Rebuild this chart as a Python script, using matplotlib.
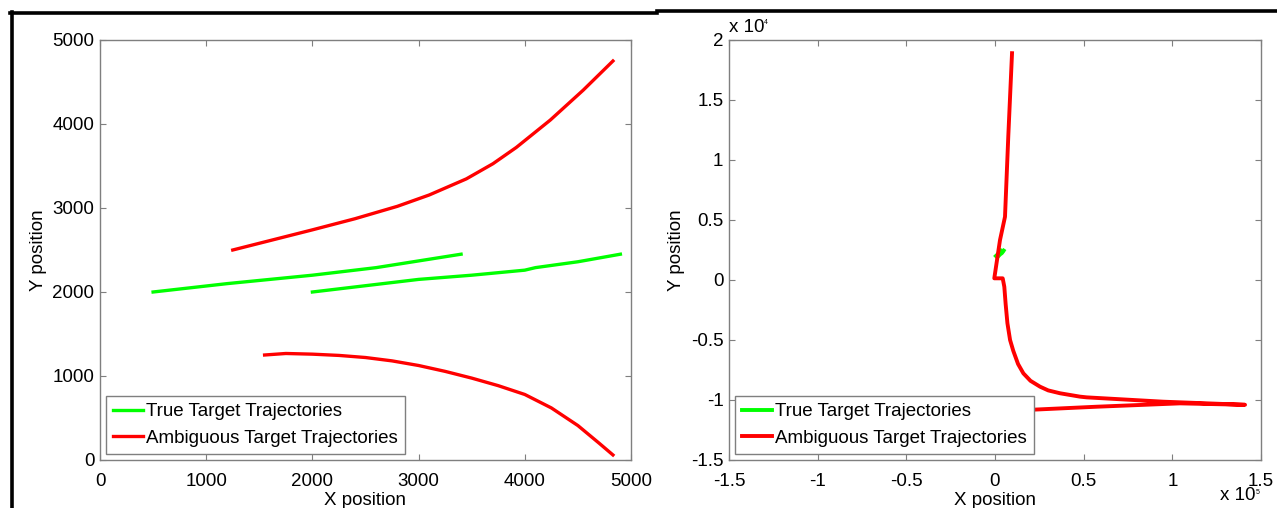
import numpy as np
import matplotlib.pyplot as plt
from matplotlib.lines import Line2D

plt.rcParams['font.family'] = ['Liberation Sans', 'DejaVu Sans']

# ---- left panel data ----
true1_x = [500, 1200, 2000, 2600, 2800, 3400]
true1_y = [2000, 2100, 2200, 2290, 2330, 2450]
true2_x = [2000, 3000, 3500, 4000, 4100, 4500, 4900]
true2_y = [2000, 2150, 2200, 2260, 2290, 2360, 2450]

amb1_x = [1250, 1600, 2000, 2400, 2800, 3100, 3450, 3700, 3920,
          4240, 4550, 4830]
amb1_y = [2500, 2612, 2740, 2872, 3020, 3155, 3347, 3527, 3721,
          4047, 4403, 4750]
amb2_x = [1550, 1750, 2000, 2250, 2500, 2750, 3000, 3250, 3500, 3750,
          4000, 4250, 4500, 4700, 4830]
amb2_y = [1250, 1268, 1260, 1245, 1220, 1180, 1125, 1055, 975, 885,
          780, 620, 410, 200, 60]

# ---- right panel data ----
amb3_x = [9600, 7500, 5640, 2820, -400, 4340, 5250, 6000, 7000, 8500,
          10300, 13000, 16000, 20000, 25400, 30000, 36700, 47900, 51700,
          94800, 141000, 104300, 57300, 25400, 15000]
amb3_y = [18900, 12000, 5270, 3330, 140, 140, -560, -2000, -3600, -5000,
          -5900, -7000, -7780, -8400, -8890, -9200, -9440, -9720, -9780,
          -10140, -10400, -10280, -10560, -10780, -10850]

green = '#00ff00'
red = '#ff0000'
gray = '#7f7f7f'

fig = plt.figure(figsize=(12.77, 5.08), dpi=100)
W, H = 1277, 508


def box(px0, py0, px1, py1):
    return [px0 / W, 1 - py1 / H, (px1 - px0) / W, (py1 - py0) / H]


def style(ax):
    for s in ax.spines.values():
        s.set_color(gray)
        s.set_linewidth(1.0)
    ax.tick_params(direction='in', length=4, color=gray, labelsize=13.5,
                   top=True, right=True)
    ax.tick_params(axis='x', pad=9)
    ax.tick_params(axis='y', pad=4)
    ax.set_xlabel('X position', fontsize=13.5, labelpad=2)
    ax.set_ylabel('Y position', fontsize=13.5, labelpad=4)


ax1 = fig.add_axes(box(100, 40, 631, 460))
ax1.plot(true1_x, true1_y, color=green, lw=2.4, label='True Target Trajectories')
ax1.plot(true2_x, true2_y, color=green, lw=2.4)
ax1.plot(amb1_x, amb1_y, color=red, lw=2.4, label='Ambiguous Target Trajectories')
ax1.plot(amb2_x, amb2_y, color=red, lw=2.4)
ax1.set_xlim(0, 5000)
ax1.set_ylim(0, 5000)
ax1.set_xticks(range(0, 5001, 1000))
ax1.set_yticks(range(0, 5001, 1000))
style(ax1)

ax2 = fig.add_axes(box(729, 40, 1261, 460))
ax2.plot(true1_x, true1_y, color=green, lw=2.8)
ax2.plot(true2_x, true2_y, color=green, lw=2.8)
ax2.plot(amb3_x, amb3_y, color=red, lw=2.8)
ax2.set_xlim(-1.5e5, 1.5e5)
ax2.set_ylim(-1.5e4, 2e4)
xt = np.arange(-1.5, 1.51, 0.5)
yt = np.arange(-1.5, 2.01, 0.5)
ax2.set_xticks(xt * 1e5)
ax2.set_xticklabels(['%g' % v for v in xt])
ax2.set_yticks(yt * 1e4)
ax2.set_yticklabels(['%g' % v for v in yt])
style(ax2)
ax2.plot([], [], color=green, lw=2.8, label='True Target Trajectories')
ax2.plot([], [], color=red, lw=2.8, label='Ambiguous Target Trajectories')

# exponent labels (matlab style, tiny superscript)
fig.text(729 / W, 1 - 27 / H, 'x 10', fontsize=13.5, va='center', ha='left')
fig.text(764 / W, 1 - 22 / H, '4', fontsize=5, va='center', ha='left')
fig.text(1220 / W, 1 - 496 / H, 'x 10', fontsize=13.5, va='center', ha='left')
fig.text(1256 / W, 1 - 492 / H, '5', fontsize=5, va='center', ha='left')

for ax in (ax1, ax2):
    leg = ax.legend(loc='lower left', fontsize=13.5, fancybox=False,
                    framealpha=1, edgecolor=gray, borderaxespad=0.3,
                    handlelength=1.6, handletextpad=0.15, borderpad=0.4,
                    labelspacing=0.5)
    leg.get_frame().set_linewidth(1.0)

# black frame lines from the screenshot
fig.add_artist(Line2D([11.5 / W, 11.5 / W], [0, 1 - 12 / H], color='black',
                      lw=2.6, transform=fig.transFigure))
fig.add_artist(Line2D([10 / W, 657 / W], [1 - 13 / H, 1 - 13 / H],
                      color='black', lw=2.6, transform=fig.transFigure))
fig.add_artist(Line2D([657 / W, 1], [1 - 11 / H, 1 - 11 / H],
                      color='black', lw=2.6, transform=fig.transFigure))

fig.savefig('out.png', dpi=100)
